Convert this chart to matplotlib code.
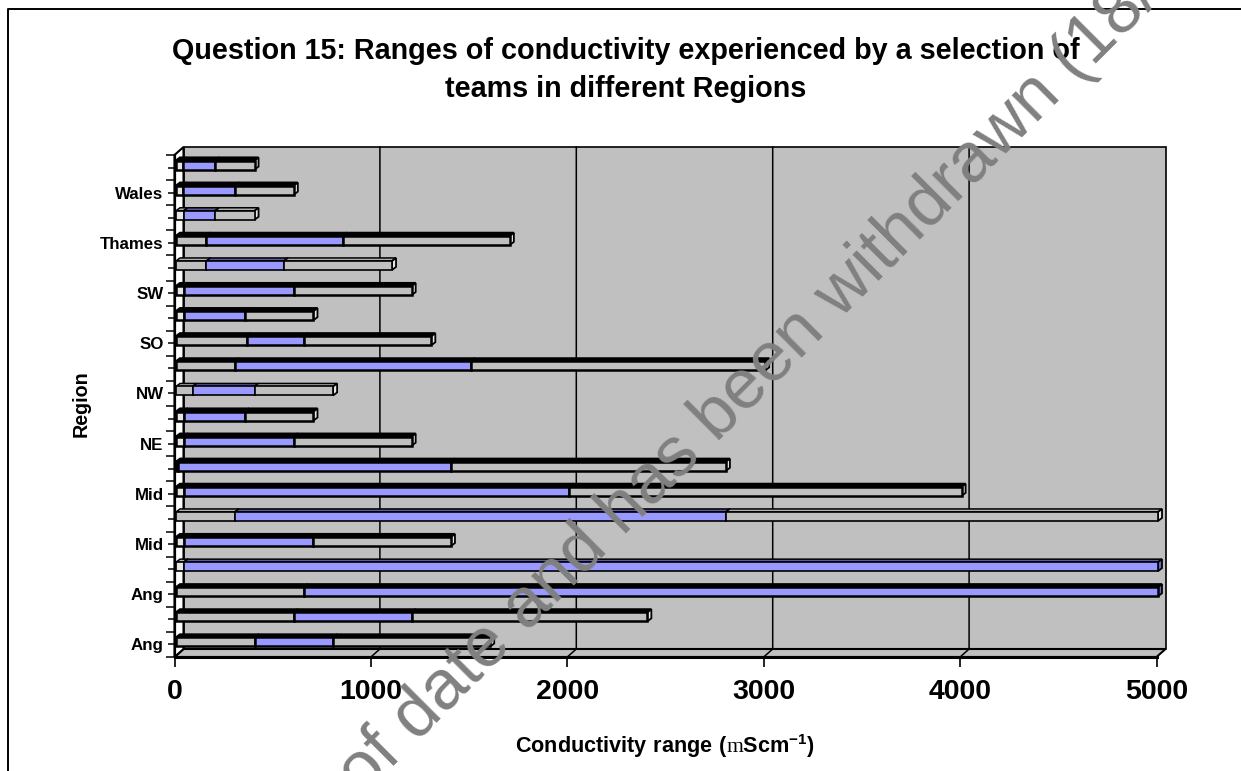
import numpy as np
import matplotlib
matplotlib.use("Agg")
import matplotlib.pyplot as plt
from matplotlib.patches import Polygon
from matplotlib.lines import Line2D

regions = ["Ang", "", "Ang", "", "Mid", "", "Mid", "", "NE", "", "NW", "", "SO", "", "SW", "", "Thames", "", "Wales", ""]
low = [400, 600, 650, 40, 40, 300, 40, 10, 40, 40, 85, 300, 360, 40, 40, 155, 155, 40, 35, 35]
mid = [800, 1200, 5000, 5000, 700, 2800, 2000, 1400, 600, 350, 400, 1500, 650, 350, 600, 550, 850, 200, 300, 200]
high = [1600, 2400, 5000, 5000, 1400, 5000, 4000, 2800, 1200, 700, 800, 3000, 1300, 700, 1200, 1100, 1700, 400, 600, 400]
xticks = [0, 1000, 2000, 3000, 4000, 5000]
thin_rows = [3, 5, 10, 15, 17]  # these render with an open top face in the original

W, H = 1241, 771
grey = "#C0C0C0"
blue = "#9999FF"

plt.rcParams["font.family"] = ["Liberation Sans", "DejaVu Sans"]
plt.rcParams["mathtext.fontset"] = "custom"
plt.rcParams["mathtext.bf"] = "Liberation Sans:bold"
plt.rcParams["mathtext.rm"] = "Liberation Serif"

fig = plt.figure(figsize=(W / 100, H / 100), dpi=100, facecolor="white")
# front plane of the fake 3D box
x0, x1, y_top, y_bot = 174.5, 1156.5, 155.0, 657.0
ax = fig.add_axes([x0 / W, 1 - y_bot / H, (x1 - x0) / W, (y_bot - y_top) / H])
ax.set_xlim(0, 5000)
ax.set_ylim(0, 20)
ax.patch.set_visible(False)

px_x = 5000 / (x1 - x0)
px_y = 20 / (y_bot - y_top)
dx, dy = 9 * px_x, 8 * px_y      # depth of the box
bx, by = 4 * px_x, 3 * px_y      # depth of a bar
ox, oy = 1.5 * px_x, 2.5 * px_y  # bar offset inside the box
bh = 9 * px_y                    # bar front height


def poly(pts, fc, lw=1.0, z=2):
    ax.add_patch(Polygon(pts, closed=True, facecolor=fc, edgecolor="black",
                         linewidth=lw, zorder=z, clip_on=False, joinstyle="miter"))


# walls
poly([(dx, dy), (5000 + dx, dy), (5000 + dx, 20 + dy), (dx, 20 + dy)], grey, 1.2, 1)
poly([(0, 0), (dx, dy), (5000 + dx, dy), (5000, 0)], grey, 1.5, 1)
poly([(0, 0), (dx, dy), (dx, 20 + dy), (0, 20)], "white", 1.5, 1)

for v in xticks[1:-1]:
    ax.plot([v, v + dx, v + dx], [0, dy, 20 + dy], color="black", lw=1.1, zorder=1.5, clip_on=False)


def segment(a, b, yb, fc, top, side, z, lw_top, lw_front):
    if b <= a:
        return
    a, b = a + ox, b + ox
    poly([(a, yb + bh), (a + bx, yb + bh + by), (b + bx, yb + bh + by), (b, yb + bh)], top, lw_top, z)
    poly([(b, yb), (b + bx, yb + by), (b + bx, yb + bh + by), (b, yb + bh)], side, 1.3, z)
    poly([(a, yb), (b, yb), (b, yb + bh), (a, yb + bh)], fc, lw_front, z + 0.1)


for i in range(len(regions)):
    yb = i + 0.5 + oy - bh / 2
    z = 3 + (len(regions) - i) * 0.5
    if i in thin_rows:
        t_grey, t_blue, lw_top, lw_front = "#B0B0B0", "#5A5AA0", 1.1, 1.2
    else:
        t_grey, t_blue, lw_top, lw_front = "black", "black", 1.6, 1.8
    cap = "#E6E6E6" if low[i] < 50 else grey
    segment(0, low[i], yb, cap, t_grey, "#E6E6E6", z, lw_top, lw_front)
    segment(low[i], mid[i], yb, blue, t_blue, "#6666CC", z, lw_top, lw_front)
    segment(mid[i], high[i], yb, grey, t_grey, "#E6E6E6", z, lw_top, lw_front)

for side in ["top", "right"]:
    ax.spines[side].set_visible(False)
ax.spines["left"].set_linewidth(1.6)
ax.spines["bottom"].set_linewidth(2.2)
ax.spines["left"].set_zorder(20)
ax.spines["bottom"].set_zorder(20)

ax.set_xticks(xticks)
ax.set_xticklabels([str(v) for v in xticks], fontsize=20.5, fontweight="bold")
ax.tick_params(axis="x", length=7, width=1.2, pad=8.5)

ax.set_yticks(np.arange(0, 21))
ax.set_yticklabels([])
ax.tick_params(axis="y", which="major", length=6.8, width=1.1)
ax.set_yticks(np.arange(20) + 0.5, labels=regions, minor=True)
ax.tick_params(axis="y", which="minor", length=4.7, width=1.1, pad=3.2, labelsize=12.2)
for t in ax.get_yticklabels(minor=True):
    t.set_fontweight("bold")

fig.text(626 / W, 1 - 70 / H, "Question 15: Ranges of conductivity experienced by a selection of\nteams in different Regions",
         ha="center", va="center", fontsize=20.7, fontweight="bold", linespacing=1.42)
fig.text(81 / W, 1 - 404 / H, "Region", rotation=90, ha="center", va="center", fontsize=14.2, fontweight="bold")
fig.text(665 / W, 1 - 746 / H,
         r"$\mathbf{Conductivity\ range\ (}\mathrm{m}\mathbf{Scm}^{\mathbf{-1}}\mathbf{)}$",
         ha="center", va="center", fontsize=15.6)

# page border, open at right and bottom
fig.add_artist(Line2D([8 / W, 8 / W, 1], [0, 1 - 9 / H, 1 - 9 / H], color="black", lw=1.4, transform=fig.transFigure))

# watermark sits over everything
fig.text(362 / W, 1 - 797 / H, "of date and has been withdrawn (18/", rotation=45, rotation_mode="anchor",
         ha="left", va="baseline", fontsize=50.3, color="#808080", zorder=30)

fig.savefig("out.png", dpi=100)
